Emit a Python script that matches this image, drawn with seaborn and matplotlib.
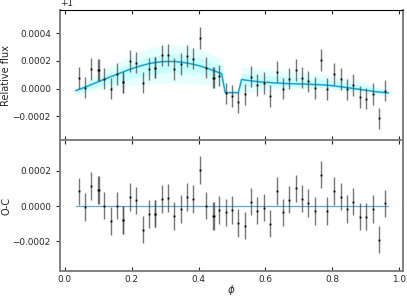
import numpy as np
import matplotlib
matplotlib.use('Agg')
import matplotlib.pyplot as plt
import seaborn as sns

sns.set_style('ticks')
plt.rcParams['font.family'] = ['DejaVu Sans']

# Orbital phase of each binned point (a few bins hold two visits)
phase = [0.041, 0.060, 0.079, 0.098, 0.101, 0.118, 0.137, 0.156, 0.175, 0.175,
         0.194, 0.214, 0.233, 0.252, 0.270, 0.270, 0.290, 0.309, 0.328, 0.347,
         0.366, 0.385, 0.404, 0.423, 0.442, 0.445, 0.461, 0.481, 0.500, 0.519,
         0.538, 0.557, 0.576, 0.596, 0.615, 0.634, 0.653, 0.672, 0.692, 0.710,
         0.729, 0.749, 0.768, 0.786, 0.806, 0.825, 0.844, 0.863, 0.882, 0.901,
         0.921, 0.940, 0.959]

# Relative flux minus 1
flux = [0.000076, 0.000007, 0.000141, 0.000136, 0.000136, 0.000072, 0.000000, 0.000106, 0.000044, 0.000044,
        0.000198, 0.000188, 0.000042, 0.000141, 0.000151, 0.000151, 0.000240, 0.000244, 0.000143, 0.000178,
        0.000235, 0.000217, 0.000365, 0.000151, 0.000079, 0.000079, 0.000094, -0.000035, -0.000054, -0.000101,
        -0.000042, 0.000086, 0.000025, 0.000040, -0.000054, 0.000123, 0.000000, 0.000072, 0.000136, 0.000079,
        0.000052, 0.000003, 0.000207, -0.000003, 0.000106, 0.000069, -0.000007, 0.000025, -0.000062, -0.000074,
        -0.000040, -0.000217, -0.000015]

# Observed minus computed
resid = [0.000083, -0.000004, 0.000115, 0.000091, 0.000091, 0.000003, -0.000085, 0.000003, -0.000079, -0.000079,
         0.000054, 0.000032, -0.000133, -0.000045, -0.000042, -0.000042, 0.000041, 0.000045, -0.000057, -0.000015,
         0.000051, 0.000041, 0.000204, 0.000003, -0.000057, -0.000057, -0.000021, -0.000036, -0.000021, -0.000095,
         -0.000110, 0.000026, -0.000025, -0.000008, -0.000099, 0.000085, -0.000036, 0.000037, 0.000100, 0.000043,
         0.000019, -0.000028, 0.000179, -0.000028, 0.000087, 0.000054, -0.000015, 0.000026, -0.000059, -0.000059,
         -0.000015, -0.000189, 0.000015]

err = [0.000078, 0.000079, 0.000079, 0.000078, 0.000078, 0.000078, 0.000078, 0.000078, 0.000078, 0.000078,
       0.000079, 0.000078, 0.000078, 0.000078, 0.000078, 0.000078, 0.000078, 0.000078, 0.000078, 0.000078,
       0.000078, 0.000078, 0.000079, 0.000078, 0.000078, 0.000078, 0.000078, 0.000078, 0.000078, 0.000078,
       0.000078, 0.000078, 0.000078, 0.000078, 0.000078, 0.000078, 0.000078, 0.000078, 0.000078, 0.000078,
       0.000078, 0.000078, 0.000078, 0.000078, 0.000078, 0.000078, 0.000078, 0.000078, 0.000078, 0.000078,
       0.000078, 0.000077, 0.000078]

# Best-fit phase curve with secondary eclipse
model_phase = [0.032, 0.041, 0.060, 0.079, 0.098, 0.118, 0.137, 0.156, 0.175, 0.194,
               0.214, 0.233, 0.252, 0.271, 0.290, 0.309, 0.328, 0.347, 0.366, 0.385,
               0.404, 0.423, 0.442, 0.461, 0.469, 0.480, 0.519, 0.529, 0.538, 0.557,
               0.576, 0.596, 0.615, 0.634, 0.653, 0.672, 0.692, 0.710, 0.729, 0.749,
               0.768, 0.786, 0.806, 0.825, 0.844, 0.863, 0.882, 0.901, 0.921, 0.940,
               0.959, 0.968]
model_flux = [-0.000016, -0.000008, 0.000009, 0.000028, 0.000047, 0.000066, 0.000085, 0.000103, 0.000121, 0.000139,
              0.000155, 0.000169, 0.000181, 0.000189, 0.000195, 0.000197, 0.000196, 0.000192, 0.000185, 0.000176,
              0.000164, 0.000150, 0.000133, 0.000116, 0.000108, -0.000030, -0.000030, 0.000066, 0.000062, 0.000056,
              0.000050, 0.000046, 0.000043, 0.000040, 0.000037, 0.000035, 0.000034, 0.000033, 0.000031, 0.000029,
              0.000027, 0.000024, 0.000019, 0.000013, 0.000007, 0.000000, -0.000006, -0.000013, -0.000020, -0.000026,
              -0.000030, -0.000032]

# Spread of posterior model draws
band_phase = [0.032, 0.10, 0.18, 0.25, 0.32, 0.40, 0.469, 0.480, 0.519, 0.529, 0.60, 0.70, 0.80, 0.90, 0.968]
outer_hi = [0.000000, 0.000110, 0.000225, 0.000295, 0.000320, 0.000290, 0.000220, -0.000020, -0.000020, 0.000155,
            0.000140, 0.000120, 0.000095, 0.000040, -0.000015]
outer_lo = [-0.000050, -0.000005, 0.000015, 0.000030, 0.000040, 0.000035, 0.000010, -0.000040, -0.000040, -0.000035,
            -0.000015, -0.000005, -0.000010, -0.000035, -0.000055]
inner_hi = [-0.000008, 0.000075, 0.000170, 0.000235, 0.000255, 0.000230, 0.000170, -0.000025, -0.000025, 0.000110,
            0.000095, 0.000080, 0.000060, 0.000020, -0.000022]
inner_lo = [-0.000035, 0.000015, 0.000060, 0.000100, 0.000120, 0.000110, 0.000070, -0.000035, -0.000035, 0.000020,
            0.000020, 0.000015, 0.000005, -0.000020, -0.000040]

fig, (ax1, ax2) = plt.subplots(2, 1, figsize=(4.07, 2.97), dpi=100, sharex=True)
fig.subplots_adjust(left=0.147, right=0.991, top=0.965, bottom=0.089, hspace=0)

one = 1.0
ax1.fill_between(band_phase, one + np.array(outer_lo), one + np.array(outer_hi),
                 color='cyan', alpha=0.09, lw=0)
ax1.fill_between(band_phase, one + np.array(inner_lo), one + np.array(inner_hi),
                 color='cyan', alpha=0.13, lw=0)
ax1.plot(model_phase, one + np.array(model_flux), color='#00dcec', lw=1.4, alpha=0.7)
ax1.plot(model_phase, one + np.array(model_flux), color='#2a84c0', lw=0.7, alpha=0.9)

ebar_kw = dict(fmt='none', ecolor='#4a4a4a', elinewidth=1.0, alpha=0.75, capsize=0)
ax1.errorbar(phase, one + np.array(flux), yerr=err, **ebar_kw)
ax1.plot(phase, one + np.array(flux), 's', ms=1.3, color='k', mew=0)

ax2.plot([model_phase[0], model_phase[-1]], [0, 0], color='#3a93cc', lw=0.9, alpha=0.8)
ax2.errorbar(phase, resid, yerr=err, **ebar_kw)
ax2.plot(phase, resid, 's', ms=1.3, color='k', mew=0)

ax1.set_xlim(-0.015, 1.013)
ax1.set_ylim(one - 0.000378, one + 0.000568)
ax2.set_ylim(-0.000365, 0.000372)
ax1.set_yticks(one + np.array([-0.0002, 0.0, 0.0002, 0.0004]))
ax2.set_yticks([-0.0002, 0.0, 0.0002])
ax2.set_xticks([0.0, 0.2, 0.4, 0.6, 0.8, 1.0])

for ax in (ax1, ax2):
    ax.tick_params(axis='x', direction='in', top=True, bottom=True, length=3, width=0.8, labelsize=6.4)
    ax.tick_params(axis='y', direction='out', left=True, length=3, width=0.8, labelsize=6.4)
    for side in ('left', 'right', 'bottom', 'top'):
        ax.spines[side].set_color('#808080')
        ax.spines[side].set_linewidth(1.4)
ax1.spines['top'].set_color('k')
ax1.spines['top'].set_linewidth(0.8)
ax1.yaxis.get_offset_text().set_fontsize(6.4)

ax1.set_ylabel('Relative flux', fontsize=7)
ax2.set_ylabel('O-C', fontsize=7)
ax2.set_xlabel(r'$\phi$', fontsize=7.5)
ax1.yaxis.set_label_coords(-0.142, 0.5)
ax2.yaxis.set_label_coords(-0.142, 0.5)
ax2.xaxis.set_label_coords(0.5, -0.095)

fig.savefig('out.png', dpi=100)
